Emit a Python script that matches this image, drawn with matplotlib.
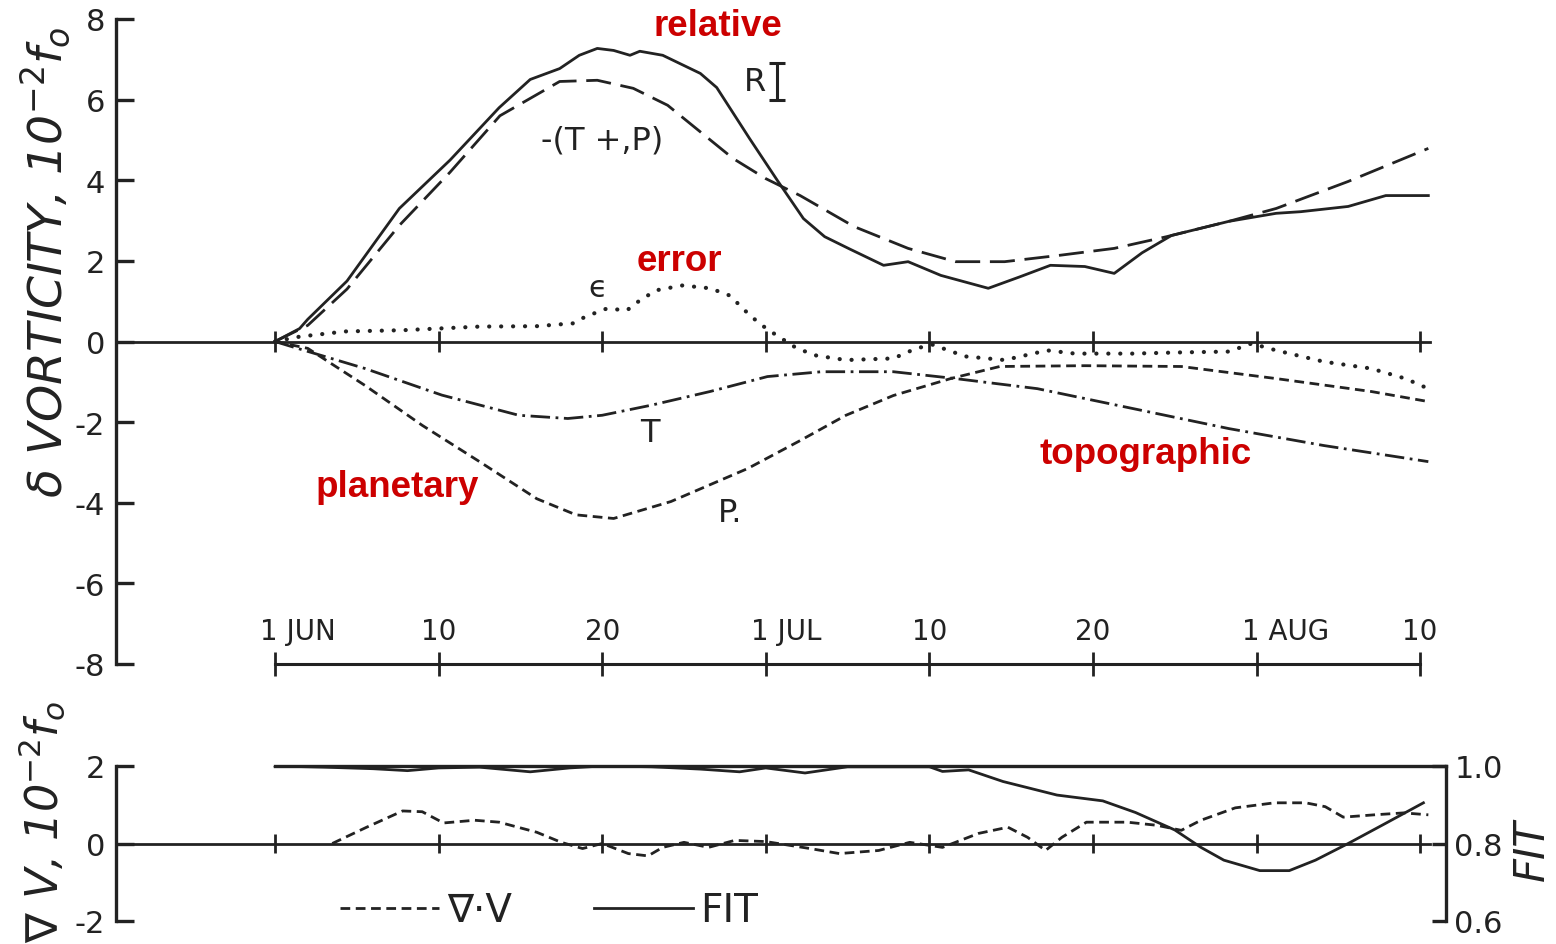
"""
Vorticity balance (relative / topographic / planetary / error) + divergence & fit
출력: out.png
"""
import matplotlib
matplotlib.use("Agg")
import matplotlib.pyplot as plt
from matplotlib.lines import Line2D

INK = "#222222"
RED = "#cc0000"
plt.rcParams["font.family"] = ["DejaVu Sans"]
plt.rcParams["axes.unicode_minus"] = False
plt.rcParams["lines.scale_dashes"] = False
plt.rcParams["lines.solid_joinstyle"] = "round"
plt.rcParams["lines.dash_joinstyle"] = "round"

# ── data (days after 1 JUN) ────────────────────────────────────────────────
tick_days = [0, 10, 20, 30, 40, 50, 60, 70]
tick_labels = ["1 JUN", "10", "20", "1 JUL", "10", "20", "1 AUG", "10"]

r_days = [0, 1.5, 2, 4.4, 7.6, 10.7, 13.7, 15.6, 17.4, 18.6, 19.7, 20.7, 21.7, 22.3,
          23.7, 26, 27, 29, 30.7, 32.3, 33.6, 35.1, 37.2, 38.7, 40.7, 43.6, 45.5,
          47.4, 49.5, 51.3, 53, 54.8, 58.3, 61.2, 62.7, 65.6, 67.9, 70.5]
r_vals = [0, 0.32, 0.55, 1.5, 3.3, 4.5, 5.8, 6.5, 6.77, 7.1, 7.27, 7.22, 7.1, 7.2,
          7.1, 6.65, 6.3, 5.04, 4.0, 3.05, 2.6, 2.3, 1.89, 1.98, 1.64, 1.32, 1.6,
          1.89, 1.86, 1.69, 2.2, 2.63, 2.98, 3.18, 3.22, 3.35, 3.62, 3.62]

tp_days = [0, 2, 4.4, 7.6, 10.7, 13.75, 17.4, 19.7, 21.9, 24, 26, 28, 30, 32.1,
           35.4, 38.7, 41.6, 44.6, 48, 51.3, 54.5, 58.3, 61.2, 65.6, 70.5]
tp_vals = [0, 0.4, 1.3, 2.88, 4.2, 5.6, 6.45, 6.48, 6.28, 5.86, 5.2, 4.54, 4.04, 3.62,
           2.85, 2.31, 1.98, 1.98, 2.14, 2.31, 2.6, 2.98, 3.3, 3.97, 4.79]

eps_days = [0, 1.5, 4.3, 7.8, 12.5, 16, 18.2, 19, 20.3, 21.5, 22.3, 23.3, 24.9, 26.6,
            27.8, 28.8, 29.6, 30.3, 31.9, 33.1, 34.9, 37.8, 39.2, 40.2, 42.2, 44.6,
            47.2, 48.9, 52.4, 55.4, 58.3, 59.7, 61.2, 64.1, 67, 69.1, 70.5]
eps_vals = [0, 0.12, 0.25, 0.28, 0.37, 0.38, 0.45, 0.62, 0.82, 0.77, 1.02, 1.27, 1.39,
            1.32, 1.14, 0.74, 0.45, 0.25, -0.17, -0.35, -0.46, -0.42, -0.17, -0.08,
            -0.37, -0.46, -0.22, -0.3, -0.3, -0.27, -0.25, -0.05, -0.22, -0.5, -0.67,
            -0.92, -1.17]

t_days = [0, 0.8, 5.5, 10.2, 14.9, 17.9, 20, 23, 26.6, 30.1, 33.4, 37.8, 41.6, 46.6,
          52.4, 58.3, 64.1, 70.5]
t_vals = [0, -0.1, -0.67, -1.33, -1.83, -1.91, -1.83, -1.58, -1.24, -0.87, -0.75,
          -0.75, -0.92, -1.17, -1.66, -2.16, -2.58, -2.98]

p_days = [0, 2, 5.5, 9, 12.5, 16, 18.4, 20.7, 24.2, 28.9, 32, 34.9, 37.8, 41.3, 44.3,
          49.5, 55.4, 61.2, 67, 70.5]
p_vals = [0, -0.17, -1.09, -2.08, -2.98, -3.9, -4.3, -4.39, -3.97, -3.15, -2.48, -1.83,
          -1.34, -0.92, -0.62, -0.6, -0.62, -0.92, -1.24, -1.49]

r_err_day = 30.7
r_err_mid = 6.45
r_err_half = 0.47

fit_days = [0, 3, 6, 8.1, 10, 12.5, 15.6, 18, 20, 23, 26, 28.4, 30, 32.4, 35, 40, 40.8,
            42.4, 44.5, 47.8, 50.6, 52.6, 55, 56.6, 58, 60.2, 62, 63.6, 65.6, 67.8, 70.2]
fit_vals = [1.0, 0.997, 0.993, 0.988, 0.995, 0.997, 0.985, 0.995, 1.0, 0.998, 0.992,
            0.985, 0.995, 0.982, 0.998, 0.998, 0.986, 0.99, 0.96, 0.925, 0.91, 0.88,
            0.835, 0.79, 0.757, 0.73, 0.73, 0.757, 0.80, 0.85, 0.905]

div_days = [3.5, 5.6, 7.8, 9, 10.3, 12.2, 13.7, 16, 17.5, 18.8, 20, 21.6, 22.8, 23.7,
            25, 26.5, 28.1, 30, 32.7, 34.5, 36.9, 38.8, 40.8, 43, 44.8, 46, 47.1, 48.1,
            49.6, 52.1, 53.9, 55.4, 56.6, 58.7, 61.1, 63, 64.2, 65.3, 67.2, 69, 70.5]
div_vals = [0, 0.42, 0.84, 0.82, 0.53, 0.6, 0.55, 0.29, 0.03, -0.13, 0, -0.26, -0.32,
            -0.1, 0.03, -0.1, 0.08, 0.05, -0.13, -0.26, -0.18, 0.03, -0.1, 0.26, 0.42,
            0.16, -0.18, 0.16, 0.55, 0.55, 0.47, 0.34, 0.6, 0.92, 1.05, 1.05, 0.95,
            0.68, 0.74, 0.79, 0.74]

XLIM = (-9.72, 71.58)
LW = 2.0

fig = plt.figure(figsize=(15.56, 9.45), dpi=100)
ax = fig.add_axes([116 / 1556, 1 - 665 / 945, 1330 / 1556, 645 / 945])
axb = fig.add_axes([116 / 1556, 1 - 922 / 945, 1330 / 1556, 155 / 945])

# ── top panel ─────────────────────────────────────────────────────────────
ax.set_xlim(*XLIM)
ax.set_ylim(-8, 8)
for s in ("top", "right", "bottom"):
    ax.spines[s].set_visible(False)
ax.spines["left"].set_linewidth(2.4)
ax.spines["left"].set_color(INK)
ax.set_xticks([])
ax.set_yticks(range(-8, 9, 2))
ax.tick_params(axis="y", direction="in", length=13, width=2.4, colors=INK,
               labelsize=22, pad=8)

ax.plot([XLIM[0], 70.6], [0, 0], color=INK, lw=2.0)
ax.vlines(tick_days, -0.25, 0.25, color=INK, lw=2.0)
# date axis at the bottom
ax.plot([tick_days[0], tick_days[-1]], [-8, -8], color=INK, lw=2.2, clip_on=False)
ax.vlines(tick_days, -8.3, -7.7, color=INK, lw=2.0, clip_on=False)
for d, lab in zip(tick_days, tick_labels):
    if lab.startswith("1 "):
        ax.text(d - 0.9, -7.17, lab, ha="left", va="center", fontsize=20, color=INK)
    else:
        ax.text(d, -7.17, lab, ha="center", va="center", fontsize=20, color=INK)

ax.plot(r_days, r_vals, color=INK, lw=LW)
ax.plot(tp_days, tp_vals, color=INK, lw=LW, linestyle=(0, (18, 7)))
ax.plot(eps_days, eps_vals, color=INK, lw=3.0, linestyle=(0, (0.1, 8.5)),
        dash_capstyle="round")
ax.plot(t_days, t_vals, color=INK, lw=LW, linestyle=(0, (14, 4, 2, 4)))
ax.plot(p_days, p_vals, color=INK, lw=LW, linestyle=(0, (7, 4)))
ax.errorbar([r_err_day], [r_err_mid], yerr=[r_err_half], fmt="none", ecolor=INK,
            elinewidth=2.2, capsize=6, capthick=2.2)

ax.text(30.0, 6.45, "R", fontsize=23, color=INK, ha="right", va="center")
ax.text(20.0, 5.0, "-(T +,P)", fontsize=23, color=INK, ha="center", va="center")
ax.text(19.7, 1.35, "ϵ", fontsize=22, color=INK, ha="center", va="center")
ax.text(22.9, -2.25, "T", fontsize=23, color=INK, ha="center", va="center")
ax.text(27.8, -4.25, "P.", fontsize=23, color=INK, ha="center", va="center")

redkw = dict(color=RED, fontsize=26.5, fontweight="bold", family="Liberation Sans",
             ha="center", va="center")
ax.text(27.1, 7.85, "relative", **redkw)
ax.text(24.7, 2.0, "error", **redkw)
ax.text(7.5, -3.6, "planetary", **redkw)
ax.text(53.2, -2.78, "topographic", **redkw)

fig.text(45 / 1556, 1 - 262 / 945, r"$\delta$ VORTICITY, 10$^{-2}$$f_o$",
         rotation=90, ha="center", va="center", fontsize=34, style="italic",
         color=INK)

# ── bottom panel ──────────────────────────────────────────────────────────
axb.set_xlim(*XLIM)
axb.set_ylim(-2, 2)
for s in ("top", "bottom", "right"):
    axb.spines[s].set_visible(False)
axb.spines["left"].set_linewidth(2.4)
axb.spines["left"].set_color(INK)
axb.set_xticks([])
axb.set_yticks([-2, 0, 2])
axb.tick_params(axis="y", direction="in", length=13, width=2.4, colors=INK,
                labelsize=22, pad=8)
axb.plot([XLIM[0], 70.6], [0, 0], color=INK, lw=2.0)
axb.vlines(tick_days, -0.25, 0.25, color=INK, lw=2.0)
axb.plot(div_days, div_vals, color=INK, lw=LW, linestyle=(0, (7, 4)))

ax2 = axb.twinx()
ax2.set_xlim(*XLIM)
ax2.set_ylim(0.6, 1.0)
for s in ("top", "bottom", "left"):
    ax2.spines[s].set_visible(False)
ax2.spines["right"].set_linewidth(2.4)
ax2.spines["right"].set_color(INK)
ax2.set_yticks([0.6, 0.8, 1.0])
ax2.set_yticklabels(["0.6", "0.8", "1.0"])
ax2.tick_params(axis="y", direction="in", length=10, width=2.4, colors=INK,
                labelsize=22, pad=6)
ax2.plot([0, XLIM[1]], [1.0, 1.0], color=INK, lw=2.4, clip_on=False)
ax2.plot(fit_days, fit_vals, color=INK, lw=LW)

fig.text(42 / 1556, 1 - 822 / 945, r"$\nabla$ V, 10$^{-2}$$f_o$",
         rotation=90, ha="center", va="center", fontsize=32, style="italic",
         color=INK)
fig.text(1532 / 1556, 1 - 850 / 945, "FIT", rotation=90, ha="center", va="center",
         fontsize=30, style="italic", color=INK)

handles = [Line2D([], [], color=INK, lw=LW, linestyle=(0, (7, 4))),
           Line2D([], [], color=INK, lw=LW)]
axb.legend(handles, ["∇·V", "FIT"], loc="center left",
           bbox_to_anchor=((340 - 116) / 1330, 0.07), ncol=2, frameon=False,
           fontsize=28, handlelength=2.55, handletextpad=0.2, columnspacing=2.1,
           borderpad=0, borderaxespad=0, labelcolor=INK)

fig.savefig("out.png", dpi=100, facecolor="white")
